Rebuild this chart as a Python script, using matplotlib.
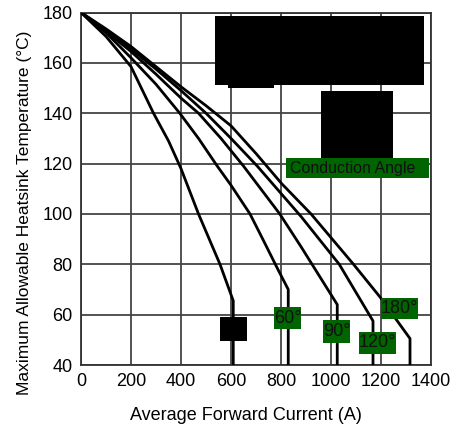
import matplotlib
matplotlib.use("Agg")
import matplotlib.pyplot as plt
from matplotlib.patches import Rectangle

plt.rcParams['font.family'] = ['Liberation Sans', 'DejaVu Sans']

# Data: (current A, max heatsink temperature degC) per conduction angle
cur_30 = [0, 100, 200, 290, 350, 400, 470, 556, 609, 609]
tmp_30 = [180, 170.5, 158.5, 140, 129, 118, 100, 80, 65.5, 40]

cur_60 = [0, 100, 200, 300, 395, 470, 545, 600, 676, 727, 789, 829, 829]
tmp_60 = [180, 172, 162, 151.5, 140, 130, 119, 111.4, 100, 90, 77.7, 70, 40]

cur_90 = [0, 100, 200, 300, 400, 470, 560, 650, 795, 880, 1025, 1025]
tmp_90 = [180, 172.5, 164.5, 155.5, 146, 140, 130, 119, 100, 87, 64, 40]

cur_120 = [0, 100, 200, 300, 400, 500, 600, 705, 880, 1033, 1168, 1168]
tmp_120 = [180, 173, 165.5, 157.5, 149, 140, 130, 119, 99, 80, 57.5, 40]

cur_180 = [0, 100, 200, 300, 400, 500, 600, 700, 803, 920, 1090, 1196, 1316, 1316]
tmp_180 = [180, 173.5, 166.5, 158.5, 150.5, 143, 135, 124, 112, 100, 80, 67, 50.5, 40]

series = [(cur_30, tmp_30), (cur_60, tmp_60), (cur_90, tmp_90),
          (cur_120, tmp_120), (cur_180, tmp_180)]

x_ticks = [0, 200, 400, 600, 800, 1000, 1200, 1400]
y_ticks = [40, 60, 80, 100, 120, 140, 160, 180]

W, H = 451, 433
fig = plt.figure(figsize=(W / 100, H / 100), dpi=100)
ax = fig.add_axes([81 / W, 1 - 365 / H, 350 / W, 352.5 / H])
ax.set_xlim(0, 1400)
ax.set_ylim(40, 180)
ax.set_xticks(x_ticks)
ax.set_yticks(y_ticks)
ax.tick_params(length=0, labelsize=13, pad=6)
ax.grid(True, color='#444444', linewidth=1.3)
for s in ax.spines.values():
    s.set_color('#333333')
    s.set_linewidth(1.3)

for cx, ty in series:
    ax.plot(cx, ty, color='black', linewidth=2.0, solid_joinstyle='round',
            solid_capstyle='butt', zorder=3)

fig.text(245.5 / W, 1 - 416 / H, 'Average Forward Current (A)', fontsize=13,
         ha='center', va='center')
fig.text(25 / W, 1 - 212.5 / H, 'Maximum Allowable Heatsink Temperature (°C)',
         fontsize=12.5, rotation=90, ha='center', va='center')

green = '#006400'


def box(x0, x1, y0, y1, color):
    ax.add_patch(Rectangle((x0, y0), x1 - x0, y1 - y0, facecolor=color,
                           edgecolor='none', zorder=5, clip_on=False))


# redaction boxes
box(536, 1372, 151.2, 178.6, 'black')
box(588, 772, 150, 151.2, 'black')
box(960, 1248, 122, 148.9, 'black')
box(556, 664, 49.7, 58.9, 'black')

# Conduction angle legend
box(820, 1392, 114.2, 122.1, green)
ax.text(838, 118.2, 'Conduction Angle', fontsize=11.5, ha='left', va='center',
        color='#111111', zorder=6)

labels = [('60°', 772, 880, 54.1, 62.9),
          ('90°', 968, 1076, 48.9, 58.0),
          ('120°', 1112, 1260, 44.2, 53.3),
          ('180°', 1200, 1348, 58.1, 66.8)]
for t, x0, x1, y0, y1 in labels:
    box(x0, x1, y0, y1, green)
    ax.text((x0 + x1) / 2, (y0 + y1) / 2, t, fontsize=13, ha='center',
            va='center', color='#111111', zorder=6)

fig.savefig('out.png', dpi=100)
